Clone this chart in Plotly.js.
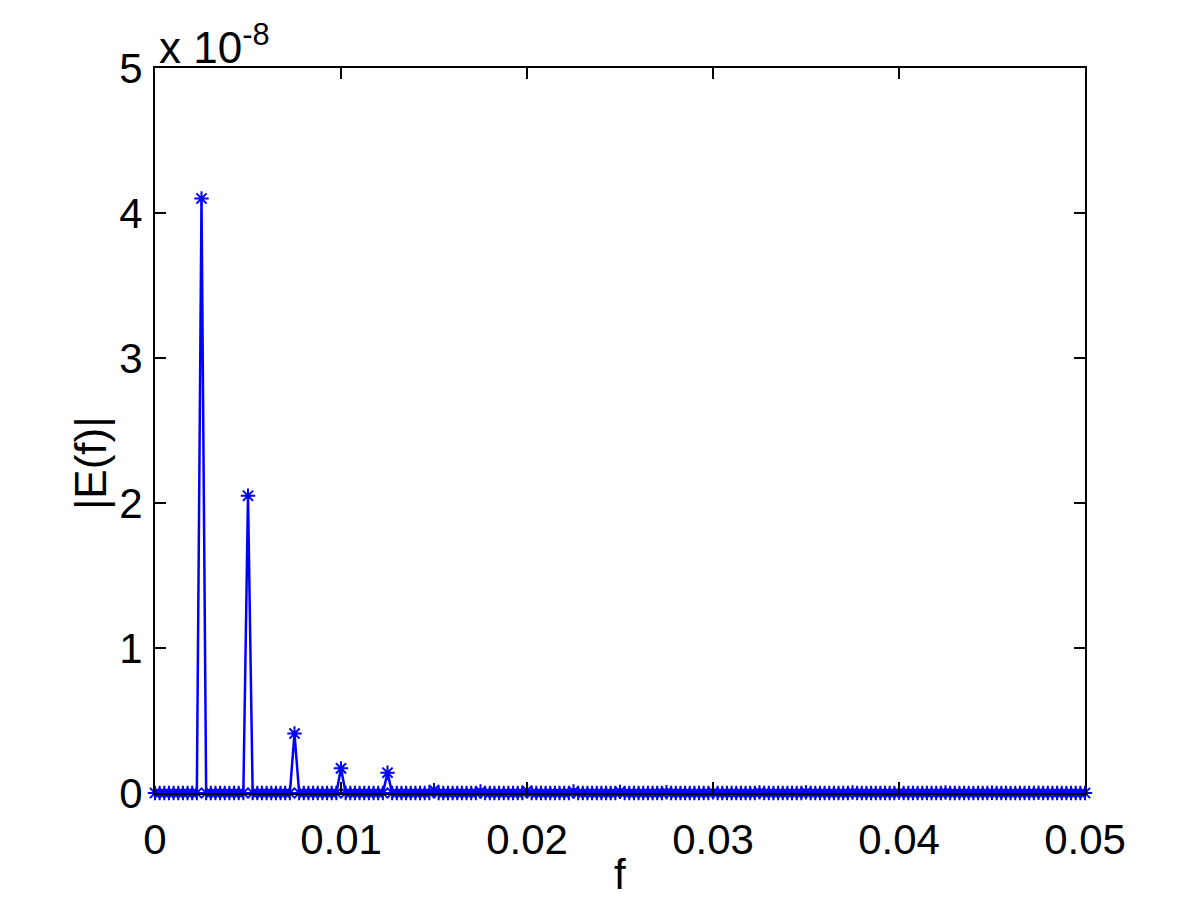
<!DOCTYPE html>
<html>
<head>
<meta charset="utf-8">
<script src="https://cdn.plot.ly/plotly-3.0.1.min.js"></script>
<style>html,body{margin:0;padding:0;background:#fff;}#chart{width:1200px;height:900px;}</style>
</head>
<body>
<div id="chart"></div>
<script>
// frequency grid (step 0.00025, 0 .. 0.05)
var freqStep = 0.00025;
var freqCount = 201;
// |E(f)| in units of 1e-8 (20 per row)
var magnitudeE8 = [
  0,0,0,0,0,0,0,0,0,0, 4.10,0,0,0,0,0,0,0,0,0,
  2.05,0,0,0,0,0,0,0,0,0, 0.41,0,0,0,0,0,0,0,0,0,
  0.17,0,0,0,0,0,0,0,0,0, 0.14,0,0,0,0,0,0,0,0,0,
  0.02,0,0,0,0,0,0,0,0,0, 0.01,0,0,0,0,0,0,0,0,0,
  0.015,0,0,0,0,0,0,0,0,0, 0.01,0,0,0,0,0,0,0,0,0,
  0.008,0,0,0,0,0,0,0,0,0, 0.005,0,0,0,0,0,0,0,0,0,
  0.005,0,0,0,0,0,0,0,0,0, 0.004,0,0,0,0,0,0,0,0,0,
  0.004,0,0,0,0,0,0,0,0,0, 0.003,0,0,0,0,0,0,0,0,0,
  0.003,0,0,0,0,0,0,0,0,0, 0.003,0,0,0,0,0,0,0,0,0,
  0.002,0,0,0,0,0,0,0,0,0, 0.002,0,0,0,0,0,0,0,0,0,
  0
];
var xTickVals = [0, 0.01, 0.02, 0.03, 0.04, 0.05];
var xTickText = ["0", "0.01", "0.02", "0.03", "0.04", "0.05"];
var yTickVals = [0, 1, 2, 3, 4, 5];
var yTickText = ["0", "1", "2", "3", "4", "5"];
var xLabel = 'f';
var yLabel = '|E(f)|';

var freqs = [];
for (var i = 0; i < freqCount; i++) freqs.push(+(i * freqStep).toFixed(6));

var font = "Liberation Sans, Arial, Helvetica, sans-serif";
var trace = {
  x: freqs, y: magnitudeE8, type: 'scatter', mode: 'lines+markers',
  line: {color: '#0000ff', width: 2.5},
  marker: {symbol: 'asterisk-open', size: 12, color: '#0000ff', line: {color: '#0000ff', width: 2}},
  cliponaxis: false, hoverinfo: 'skip'
};
var axisCommon = {
  showline: true, linecolor: '#000', linewidth: 2, mirror: 'ticks',
  ticks: 'inside', ticklen: 11, tickwidth: 2, tickcolor: '#000',
  showgrid: false, zeroline: false,
  tickfont: {family: font, size: 42, color: '#000'}
};
var layout = {
  width: 1200, height: 900,
  paper_bgcolor: '#fff', plot_bgcolor: '#fff',
  margin: {l: 155, r: 115, t: 68, b: 107},
  showlegend: false,
  xaxis: Object.assign({}, axisCommon, {
    range: [0, 0.05], tickmode: 'array', tickvals: xTickVals, ticktext: xTickText,
    ticklabelstandoff: 9
  }),
  yaxis: Object.assign({}, axisCommon, {
    range: [0, 5], tickmode: 'array', tickvals: yTickVals, ticktext: yTickText,
    ticklabelstandoff: 2
  }),
  annotations: [{
    xref: 'paper', yref: 'paper', x: 0, y: 1, xanchor: 'left', yanchor: 'bottom',
    text: 'x 10<sup>-8</sup>', showarrow: false, xshift: 2, yshift: -6,
    font: {family: font, size: 44, color: '#000'}
  }, {
    xref: 'paper', yref: 'paper', x: -0.0699, y: 0.455, xanchor: 'center', yanchor: 'middle',
    text: yLabel, textangle: -90, showarrow: false,
    font: {family: font, size: 44, color: '#000'}
  }, {
    xref: 'paper', yref: 'paper', x: 0.5, y: -0.113, xanchor: 'center', yanchor: 'middle',
    text: xLabel, showarrow: false,
    font: {family: font, size: 42, color: '#000'}
  }]
};
Plotly.newPlot('chart', [trace], layout, {displayModeBar: false, staticPlot: true});
</script>
</body>
</html>
